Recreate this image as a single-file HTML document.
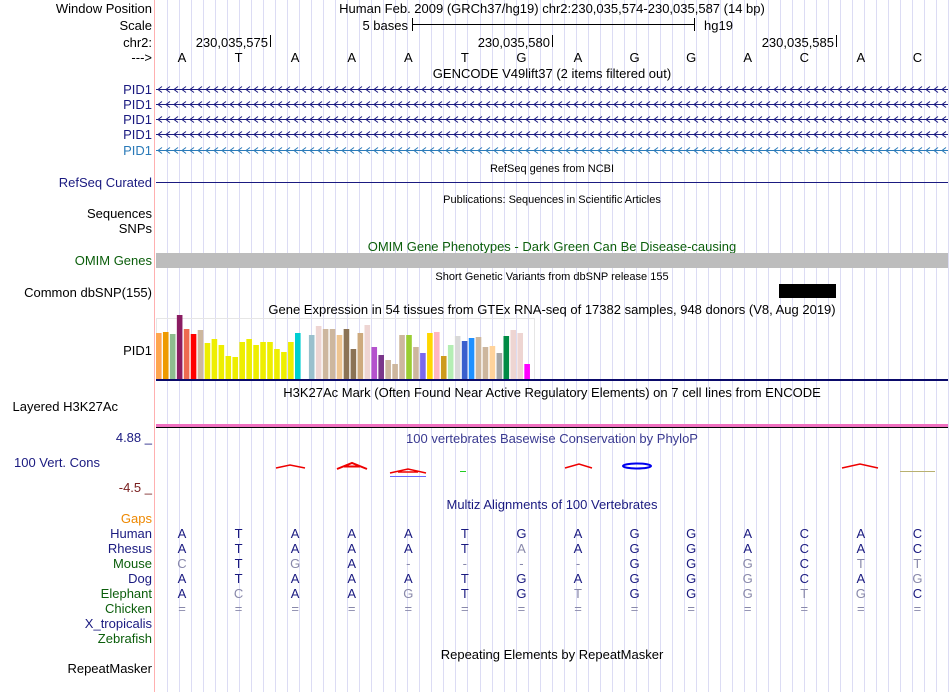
<!DOCTYPE html>
<html><head><meta charset="utf-8"><style>
html,body{margin:0;padding:0;background:#fff;}
svg{display:block;font-family:"Liberation Sans",sans-serif;}
</style></head><body>
<svg id="g" width="950" height="692" viewBox="0 0 950 692" xmlns="http://www.w3.org/2000/svg">
<g id="grid"></g>
<line x1="154.5" y1="0" x2="154.5" y2="692" stroke="#ffb0b0" stroke-width="1"/>
<g font-size="13" text-anchor="end" fill="#000">
<text x="152" y="13">Window Position</text>
<text x="152" y="30">Scale</text>
<text x="152" y="47">chr2:</text>
<text x="152" y="62">---&gt;</text>
<text x="152" y="94" fill="#1a1a80">PID1</text>
<text x="152" y="109" fill="#1a1a80">PID1</text>
<text x="152" y="124" fill="#1a1a80">PID1</text>
<text x="152" y="139" fill="#1a1a80">PID1</text>
<text x="152" y="155" fill="#2a7ab8">PID1</text>
<text x="152" y="187" fill="#1a1a80">RefSeq Curated</text>
<text x="152" y="218">Sequences</text>
<text x="152" y="233">SNPs</text>
<text x="152" y="265" fill="#0b5e0b">OMIM Genes</text>
<text x="152" y="297">Common dbSNP(155)</text>
<text x="152" y="355">PID1</text>
<text x="118" y="411">Layered H3K27Ac</text>
<text x="152" y="442" fill="#1a1a80">4.88 _</text>
<text x="100" y="467" fill="#1a1a80">100 Vert. Cons</text>
<text x="152" y="492" fill="#7a2020">-4.5 _</text>
<text x="152" y="523" fill="#ee8800">Gaps</text>
<text x="152" y="538" fill="#1a1a80">Human</text>
<text x="152" y="553" fill="#1a1a80">Rhesus</text>
<text x="152" y="568" fill="#0b5e0b">Mouse</text>
<text x="152" y="583" fill="#1a1a80">Dog</text>
<text x="152" y="598" fill="#0b5e0b">Elephant</text>
<text x="152" y="613" fill="#0b5e0b">Chicken</text>
<text x="152" y="628" fill="#1a1a80">X_tropicalis</text>
<text x="152" y="643" fill="#0b5e0b">Zebrafish</text>
<text x="152" y="673">RepeatMasker</text>
</g>
<g font-size="13" fill="#000">
<text x="552" y="13" text-anchor="middle">Human Feb. 2009 (GRCh37/hg19)   chr2:230,035,574-230,035,587 (14 bp)</text>
<text x="408" y="30" text-anchor="end">5 bases</text>
<line x1="412" y1="24.5" x2="694" y2="24.5" stroke="#000"/>
<line x1="412.5" y1="18" x2="412.5" y2="31" stroke="#000"/>
<line x1="694.5" y1="18" x2="694.5" y2="31" stroke="#000"/>
<text x="704" y="30">hg19</text>
<text x="268" y="47" text-anchor="end">230,035,575</text>
<line x1="270.5" y1="35" x2="270.5" y2="47" stroke="#000"/>
<text x="550" y="47" text-anchor="end">230,035,580</text>
<line x1="552.5" y1="35" x2="552.5" y2="47" stroke="#000"/>
<text x="834" y="47" text-anchor="end">230,035,585</text>
<line x1="836.5" y1="35" x2="836.5" y2="47" stroke="#000"/>
</g>
<g id="bases" font-size="13" text-anchor="middle"></g>
<g font-size="13" text-anchor="middle">
<text x="552" y="78">GENCODE V49lift37 (2 items filtered out)</text>
<text x="552" y="172" font-size="11">RefSeq genes from NCBI</text>
<text x="552" y="203" font-size="11">Publications: Sequences in Scientific Articles</text>
<text x="552" y="251" fill="#0b5e0b">OMIM Gene Phenotypes - Dark Green Can Be Disease-causing</text>
<text x="552" y="280" font-size="11">Short Genetic Variants from dbSNP release 155</text>
<text x="552" y="314">Gene Expression in 54 tissues from GTEx RNA-seq of 17382 samples, 948 donors (V8, Aug 2019)</text>
<text x="552" y="397">H3K27Ac Mark (Often Found Near Active Regulatory Elements) on 7 cell lines from ENCODE</text>
<text x="552" y="443" fill="#3a3a90">100 vertebrates Basewise Conservation by PhyloP</text>
<text x="552" y="509" fill="#1a1a80">Multiz Alignments of 100 Vertebrates</text>
<text x="552" y="659">Repeating Elements by RepeatMasker</text>
</g>
<g id="genes"></g>
<line x1="156" y1="182.5" x2="948" y2="182.5" stroke="#1a1a80"/>
<rect x="156" y="253" width="792" height="15" fill="#bdbdbd"/>
<rect x="779" y="284" width="57" height="14" fill="#000"/>
<rect x="156.5" y="318.5" width="378" height="61" fill="none" stroke="#e6e6e6"/>
<g id="gtex"></g>
<rect x="156" y="379" width="792" height="2" fill="#0a0a6a"/>
<rect x="156" y="424" width="792" height="3" fill="#f070c0"/>
<line x1="156" y1="427.5" x2="948" y2="427.5" stroke="#000"/>
<g>
<path d="M276,468 L290,465 L305,468" fill="none" stroke="#ee0000" stroke-width="1.5"/>
<path d="M337,469 L352,463 L367,469 M344,466.5 L360,466.5" fill="none" stroke="#ee0000" stroke-width="2"/>
<path d="M390,473 L408,469 L426,473 M398,472 L418,472" fill="none" stroke="#ee0000" stroke-width="1.5"/>
<line x1="390" y1="476.5" x2="426" y2="476.5" stroke="#6a6aff"/>
<line x1="460" y1="471.5" x2="466" y2="471.5" stroke="#22cc22"/>
<path d="M565,468 L579,464 L592,468" fill="none" stroke="#ee0000" stroke-width="1.5"/>
<ellipse cx="637" cy="466" rx="14" ry="2.5" fill="none" stroke="#0000ee" stroke-width="2"/>
<path d="M842,468 L860,464 L878,468" fill="none" stroke="#ee0000" stroke-width="1.5"/>
<line x1="900" y1="471.5" x2="935" y2="471.5" stroke="#b8b070"/>
</g>
<g id="maf" font-size="13" text-anchor="middle"></g>
<script>
var NS='http://www.w3.org/2000/svg';
var refBases=['A','T','A','A','A','T','G','A','G','G','A','C','A','C'];
var rhesus=['A','T','A','A','A','T','a','A','G','G','A','C','A','C'];
var mouse=['c','T','g','A','-','-','-','-','G','G','g','C','t','t'];
var dog=['A','T','A','A','A','T','G','A','G','G','g','C','A','g'];
var elephant=['A','c','A','A','g','T','G','t','G','G','g','t','g','C'];
var chicken=['=','=','=','=','=','=','=','=','=','=','=','=','=','='];
var gtexValues=[46,47,45,64,50,45,49,36,40,34,23,22,37,40,34,37,37,30,27,37,46,0,44,53,50,50,44,50,30,46,54,32,24,19,15,44,44,32,26,46,47,23,34,43,38,41,42,32,33,26,43,49,46,15];
var gtexColors=['#FFA54F','#EE9A00','#8FBC8F','#8B1C62','#EE6A50','#FF0000','#CDB79E','#EEEE00','#EEEE00','#EEEE00','#EEEE00','#EEEE00','#EEEE00','#EEEE00','#EEEE00','#EEEE00','#EEEE00','#EEEE00','#EEEE00','#EEEE00','#00CED1','#FFFFFF','#9AC0CD','#EED5D2','#CDB79E','#CDB79E','#EEC591','#8B7355','#8B7355','#CDAA7D','#EED5D2','#B452CD','#7A378B','#CDB79E','#CDB79E','#CDB79E','#9ACD32','#CDB79E','#7B68EE','#FFD700','#FFB6C1','#CD9B1D','#B4EEB4','#D9D9D9','#3A5FCD','#1E90FF','#CDB79E','#CDB79E','#FFD39B','#A6A6A6','#008B45','#EED5D2','#EED5D2','#FF00FF'];
function baseX(i){return 182+i*56.57;}
function gtexX(i){return 156+i*6.95;}
function gtexY(v){return 379-v;}
var grid=document.getElementById('grid');
for(var x=167;x<949;x+=12.02){
  var l=document.createElementNS(NS,'line');
  l.setAttribute('x1',Math.round(x)+0.5);l.setAttribute('x2',Math.round(x)+0.5);
  l.setAttribute('y1',0);l.setAttribute('y2',692);
  l.setAttribute('stroke','#dcdcf4');
  
  
  grid.appendChild(l);
}
var genes=document.getElementById('genes');
[[89.5,'#1a1a80'],[104.5,'#1a1a80'],[119.5,'#1a1a80'],[134.5,'#1a1a80'],[150.5,'#2a7ab8']].forEach(function(r,k){
  var d='M156,'+r[0]+' L948,'+r[0];
  for(var x=158;x<946;x+=8){d+=' M'+(x+4)+','+(r[0]-3)+' L'+x+','+r[0]+' L'+(x+4)+','+(r[0]+3);}
  var p=document.createElementNS(NS,'path');
  p.setAttribute('d',d);p.setAttribute('fill','none');p.setAttribute('stroke',r[1]);
  
  
  genes.appendChild(p);
});
function txt(parent,x,y,s,fill){
  var t=document.createElementNS(NS,'text');
  t.setAttribute('x',x);t.setAttribute('y',y);t.setAttribute('fill',fill);
  t.textContent=s;parent.appendChild(t);return t;
}
var bases=document.getElementById('bases');
refBases.forEach(function(b,i){
  var t=txt(bases,baseX(i),62,b,'#000');
  
  
});
var maf=document.getElementById('maf');
var rows=[[refBases,538],[rhesus,553],[mouse,568],[dog,583],[elephant,598],[chicken,613]];
rows.forEach(function(r){
  r[0].forEach(function(b,i){
    var mis=(b===b.toLowerCase());
    var t=txt(maf,baseX(i),r[1],b.toUpperCase(),mis?'#8888aa':'#1a1a80');
    
    
  });
});
var g=document.getElementById('gtex');
gtexValues.forEach(function(v,i){
  var r=document.createElementNS(NS,'rect');
  r.setAttribute('x',gtexX(i));r.setAttribute('width',5.6);
  r.setAttribute('y',gtexY(v));r.setAttribute('height',v);
  r.setAttribute('fill',gtexColors[i]);
  
  
  g.appendChild(r);
});
</script>
</svg>
</body></html>
